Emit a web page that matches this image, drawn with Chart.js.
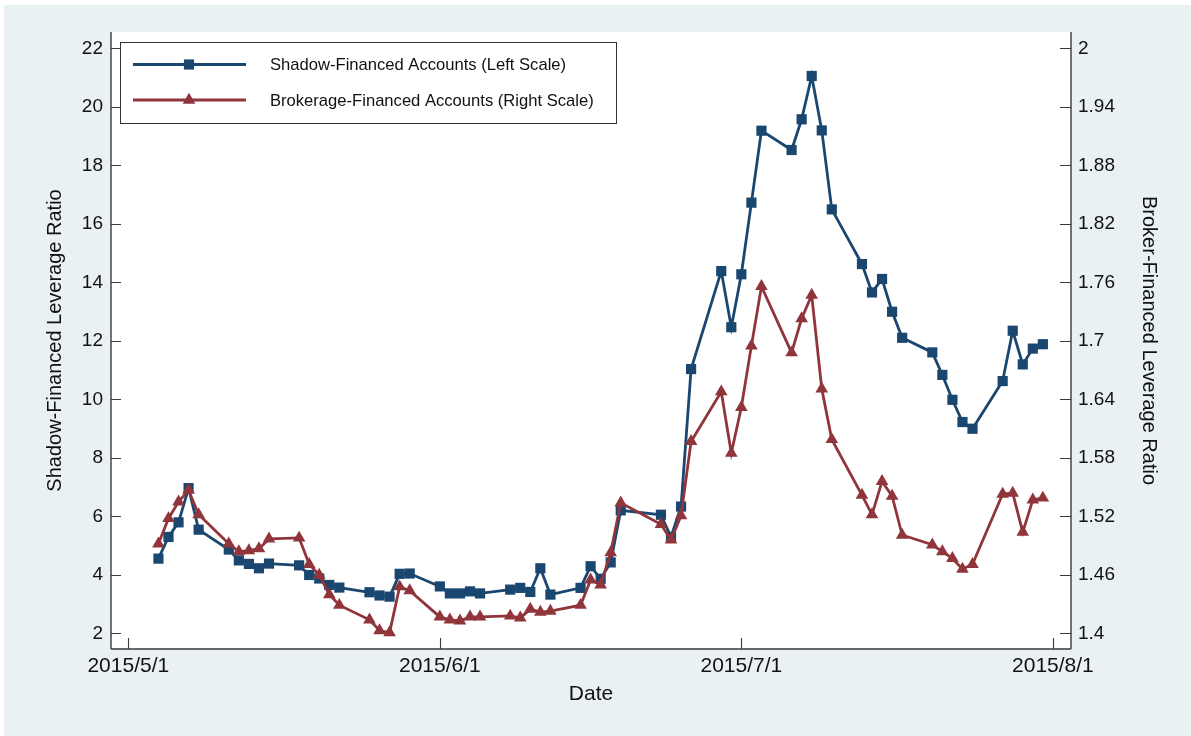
<!DOCTYPE html>
<html>
<head>
<meta charset="utf-8">
<title>Leverage Ratios of Margin Accounts, May-July 2015</title>
<script src="https://cdn.jsdelivr.net/npm/chart.js@4.4.1/dist/chart.umd.min.js"></script>
<style>
  html, body { margin: 0; padding: 0; background: #ffffff; }
  #wrap { width: 1191px; height: 736px; position: relative; }
</style>
</head>
<body>
<div id="wrap"><canvas id="chart" width="1191" height="736"></canvas></div>
<script>
// Trading days, May 4 - July 31, 2015
const tradeDates = [
  '2015-05-04','2015-05-05','2015-05-06','2015-05-07','2015-05-08',
  '2015-05-11','2015-05-12','2015-05-13','2015-05-14','2015-05-15',
  '2015-05-18','2015-05-19','2015-05-20','2015-05-21','2015-05-22',
  '2015-05-25','2015-05-26','2015-05-27','2015-05-28','2015-05-29',
  '2015-06-01','2015-06-02','2015-06-03','2015-06-04','2015-06-05',
  '2015-06-08','2015-06-09','2015-06-10','2015-06-11','2015-06-12',
  '2015-06-15','2015-06-16','2015-06-17','2015-06-18','2015-06-19',
  '2015-06-23','2015-06-24','2015-06-25','2015-06-26',
  '2015-06-29','2015-06-30',
  '2015-07-01','2015-07-02','2015-07-03',
  '2015-07-06','2015-07-07','2015-07-08','2015-07-09','2015-07-10',
  '2015-07-13','2015-07-14','2015-07-15','2015-07-16','2015-07-17',
  '2015-07-20','2015-07-21','2015-07-22','2015-07-23','2015-07-24',
  '2015-07-27','2015-07-28','2015-07-29','2015-07-30','2015-07-31'
];

// Shadow-financed accounts, left scale
const shadowLeverage = [
  4.56, 5.30, 5.80, 6.97, 5.55,
  4.87, 4.50, 4.38, 4.23, 4.39,
  4.33, 4.00, 3.88, 3.66, 3.57,
  3.41, 3.30, 3.26, 4.04, 4.05,
  3.61, 3.37, 3.37, 3.44, 3.37,
  3.50, 3.56, 3.42, 4.23, 3.33,
  3.56, 4.30, 3.87, 4.43, 6.21,
  6.06, 5.30, 6.34, 11.04,
  14.39, 12.47,
  14.28, 16.73, 19.19,
  18.53, 19.58, 21.06, 19.20, 16.50,
  14.63, 13.66, 14.12, 13.00, 12.11,
  11.61, 10.84, 9.99, 9.23, 9.00,
  10.63, 12.35, 11.20, 11.74, 11.89
];

// Brokerage-financed accounts, right scale
const brokerLeverage = [
  1.492, 1.518, 1.535, 1.547, 1.522,
  1.492, 1.484, 1.485, 1.487, 1.497,
  1.498, 1.471, 1.460, 1.440, 1.429,
  1.414, 1.403, 1.401, 1.448, 1.444,
  1.417, 1.414, 1.413, 1.417, 1.417,
  1.418, 1.416, 1.425, 1.422, 1.423,
  1.429, 1.455, 1.450, 1.483, 1.534,
  1.512, 1.496, 1.521, 1.597,
  1.648, 1.585,
  1.632, 1.695, 1.756,
  1.688, 1.723, 1.747, 1.651, 1.599,
  1.542, 1.522, 1.556, 1.541, 1.501,
  1.491, 1.484, 1.477, 1.466, 1.471,
  1.543, 1.544, 1.504, 1.537, 1.539
];

// Axis ticks
const dateTicks = ['2015-05-01', '2015-06-01', '2015-07-01', '2015-08-01'];
const shadowTicks = [2, 4, 6, 8, 10, 12, 14, 16, 18, 20, 22];
const brokerTicks = [1.4, 1.46, 1.52, 1.58, 1.64, 1.7, 1.76, 1.82, 1.88, 1.94, 2];

const seriesNames = ['Shadow-Financed Accounts (Left Scale)', 'Brokerage-Financed Accounts (Right Scale)'];

// ---- helpers ----
const DAY_MS = 86400000;
const ORIGIN = Date.UTC(2015, 4, 1);
function dayNumber(iso) {
  const [y, m, d] = iso.split('-').map(Number);
  return (Date.UTC(y, m - 1, d) - ORIGIN) / DAY_MS;
}
function dateLabel(n) {
  const d = new Date(ORIGIN + Math.round(n) * DAY_MS);
  return d.getUTCFullYear() + '/' + (d.getUTCMonth() + 1) + '/' + d.getUTCDate();
}

const NAVY = '#1a476f';
const MAROON = '#90353b';
const AXIS = '#3a3a3a';
const FONT = '"Liberation Sans", Arial, Helvetica, sans-serif';

const shadowPoints = tradeDates.map((d, i) => ({ x: dayNumber(d), y: shadowLeverage[i] }));
const brokerPoints = tradeDates.map((d, i) => ({ x: dayNumber(d), y: brokerLeverage[i] }));

// Both y axes share one frame: 2..22 on the left lines up with 1.4..2 on the right
const leftMin = 1.470, leftMax = 22.564;
const toRight = v => 1.4 + (v - 2) * 0.03;

// Page and plot backgrounds
const backdrop = {
  id: 'backdrop',
  beforeDraw(chart) {
    const { ctx, width, height, chartArea: a } = chart;
    ctx.save();
    ctx.fillStyle = '#ffffff';
    ctx.fillRect(0, 0, width, height);
    ctx.fillStyle = '#e9f1f3';
    ctx.fillRect(4, 5, width - 4, height - 5);
    ctx.fillStyle = '#ffffff';
    ctx.fillRect(a.left, a.top, a.right - a.left, a.bottom - a.top);
    ctx.restore();
  }
};

// Axis lines with tick marks pointing into the plot
const frameTicks = {
  id: 'frameTicks',
  afterDatasetsDraw(chart) {
    const { ctx, chartArea: a, scales } = chart;
    ctx.save();
    ctx.strokeStyle = AXIS;
    ctx.lineWidth = 1.4;
    ctx.beginPath();
    ctx.moveTo(a.left, a.top); ctx.lineTo(a.left, a.bottom);
    ctx.moveTo(a.left, a.bottom); ctx.lineTo(a.right, a.bottom);
    ctx.moveTo(a.right, a.top); ctx.lineTo(a.right, a.bottom);
    ctx.stroke();
    ctx.lineWidth = 1.1;
    ctx.beginPath();
    scales.y.ticks.forEach(t => {
      const p = Math.round(scales.y.getPixelForValue(t.value)) + 0.5;
      ctx.moveTo(a.left, p); ctx.lineTo(a.left + 10, p);
    });
    scales.y2.ticks.forEach(t => {
      const p = Math.round(scales.y2.getPixelForValue(t.value)) + 0.5;
      ctx.moveTo(a.right, p); ctx.lineTo(a.right - 11, p);
    });
    scales.x.ticks.forEach(t => {
      const p = Math.round(scales.x.getPixelForValue(t.value)) + 0.5;
      ctx.moveTo(p, a.bottom); ctx.lineTo(p, a.bottom - 11);
    });
    ctx.stroke();
    ctx.restore();
  }
};

// Boxed legend with a line sample and the marker in its middle
const boxedLegend = {
  id: 'boxedLegend',
  afterDraw(chart) {
    const { ctx, chartArea: a } = chart;
    const x0 = a.left + 9, y0 = a.top + 10, w = 496, h = 81;
    ctx.save();
    ctx.fillStyle = '#ffffff';
    ctx.fillRect(x0, y0, w, h);
    ctx.strokeStyle = '#333333';
    ctx.lineWidth = 1;
    ctx.strokeRect(x0 + 0.5, y0 + 0.5, w, h);
    const rows = [chart.data.datasets[1], chart.data.datasets[0]];
    rows.forEach((ds, i) => {
      const y = y0 + 22.5 + i * 35.5;
      ctx.strokeStyle = ds.borderColor;
      ctx.lineWidth = ds.borderWidth;
      ctx.beginPath();
      ctx.moveTo(x0 + 13, y); ctx.lineTo(x0 + 126, y);
      ctx.stroke();
      ctx.fillStyle = ds.pointBackgroundColor;
      Chart.helpers.drawPoint(ctx, { pointStyle: ds.pointStyle, radius: ds.pointRadius, rotation: 0, borderWidth: 0 }, x0 + 69, y);
      ctx.fillStyle = '#111111';
      ctx.font = '16.6px ' + FONT;
      ctx.textBaseline = 'middle';
      ctx.textAlign = 'left';
      ctx.fillText(ds.label, x0 + 150, y + 1);
    });
    ctx.restore();
  }
};

new Chart(document.getElementById('chart'), {
  type: 'line',
  data: {
    datasets: [
      {
        label: seriesNames[1],
        data: brokerPoints,
        yAxisID: 'y2',
        order: 0,
        borderColor: MAROON,
        backgroundColor: MAROON,
        borderWidth: 2.8,
        pointStyle: 'triangle',
        pointRadius: 7.3,
        pointBackgroundColor: MAROON,
        pointBorderWidth: 0,
        tension: 0
      },
      {
        label: seriesNames[0],
        data: shadowPoints,
        yAxisID: 'y',
        order: 1,
        borderColor: NAVY,
        backgroundColor: NAVY,
        borderWidth: 2.8,
        pointStyle: 'rect',
        pointRadius: 7.2,
        pointBackgroundColor: NAVY,
        pointBorderWidth: 0,
        tension: 0
      }
    ]
  },
  options: {
    responsive: false,
    animation: false,
    devicePixelRatio: 1,
    layout: { padding: { top: 32, left: 0, right: 0, bottom: 0 } },
    plugins: {
      legend: { display: false },
      tooltip: { enabled: false }
    },
    scales: {
      x: {
        type: 'linear',
        position: 'bottom',
        min: -1.72,
        max: 93.8,
        afterBuildTicks: s => { s.ticks = dateTicks.map(d => ({ value: dayNumber(d) })); },
        afterFit: s => { s.height = 87; },
        grid: { display: false, drawTicks: false },
        border: { display: false },
        ticks: {
          autoSkip: false, maxRotation: 0, minRotation: 0, padding: 5,
          color: '#111111', font: { family: FONT, size: 21 },
          callback: v => dateLabel(v)
        },
        title: {
          display: true, text: 'Date', color: '#111111',
          font: { family: FONT, size: 21 },
          padding: { top: 0, bottom: 29 }
        }
      },
      y: {
        type: 'linear',
        position: 'left',
        min: leftMin,
        max: leftMax,
        afterBuildTicks: s => { s.ticks = shadowTicks.map(v => ({ value: v })); },
        afterFit: s => { s.width = 111; },
        grid: { display: false, drawTicks: false },
        border: { display: false },
        ticks: {
          padding: 8, color: '#111111', font: { family: FONT, size: 19 },
          callback: v => String(v)
        },
        title: {
          display: true, text: 'Shadow-Financed Leverage Ratio', color: '#111111',
          font: { family: FONT, size: 20 },
          padding: { top: 43, bottom: 0 }
        }
      },
      y2: {
        type: 'linear',
        position: 'right',
        min: toRight(leftMin),
        max: toRight(leftMax),
        afterBuildTicks: s => { s.ticks = brokerTicks.map(v => ({ value: v })); },
        afterFit: s => { s.width = 120; },
        grid: { display: false, drawTicks: false },
        border: { display: false },
        ticks: {
          padding: 7, color: '#111111', font: { family: FONT, size: 19 },
          callback: v => String(Number(v.toFixed(2)))
        },
        title: {
          display: true, text: 'Broker-Financed Leverage Ratio', color: '#111111',
          font: { family: FONT, size: 20 },
          padding: { top: 30, bottom: 0 }
        }
      }
    }
  },
  plugins: [backdrop, frameTicks, boxedLegend]
});
</script>
</body>
</html>
